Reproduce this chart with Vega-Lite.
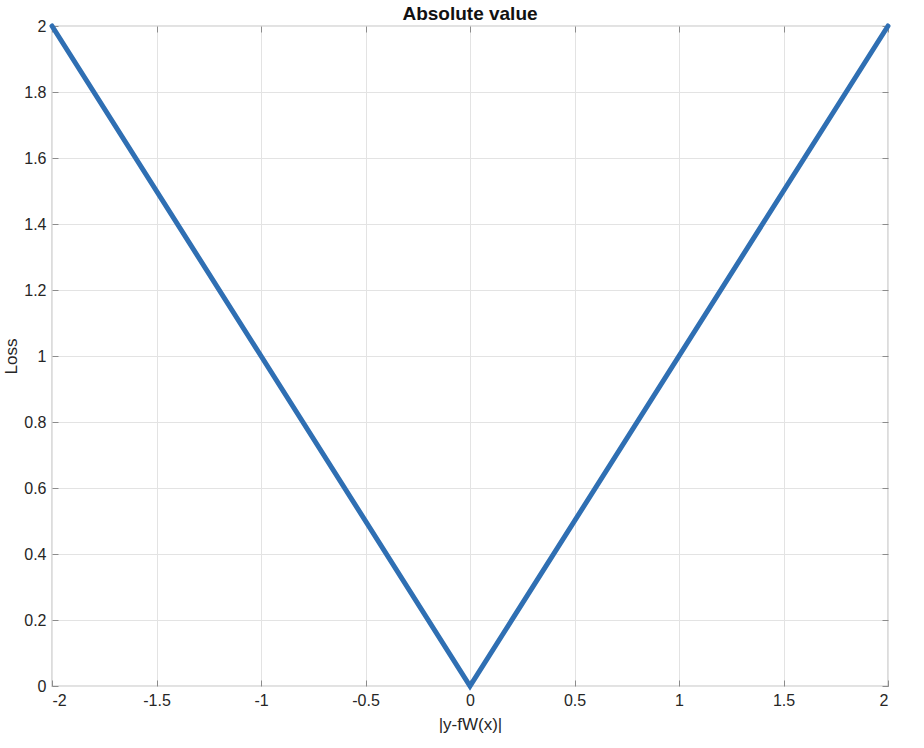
{
  "$schema": "https://vega.github.io/schema/vega-lite/v6.json",
  "width": 836,
  "height": 660,
  "autosize": {"type": "none"},
  "padding": {"left": 52, "top": 26, "right": 36, "bottom": 62},
  "background": "white",
  "config": {
    "font": "Liberation Sans",
    "view": {"stroke": "#8c8c8c", "strokeWidth": 1.2},
    "axis": {
      "domain": false,
      "grid": true,
      "gridColor": "#e3e3e3",
      "gridWidth": 1,
      "tickColor": "#8c8c8c",
      "tickSize": -6,
      "labelFont": "Liberation Sans",
      "labelFontSize": 16,
      "labelColor": "#262626",
      "titleFont": "Liberation Sans",
      "titleFontSize": 17,
      "titleFontWeight": "normal",
      "titleColor": "#262626"
    },
    "title": {"font": "Liberation Sans", "fontSize": 19, "fontWeight": "bold", "color": "#111111", "offset": -8}
  },
  "title": "Absolute value",
  "data": {"values": [
    {"e": -2, "loss": 2},
    {"e": 0, "loss": 0},
    {"e": 2, "loss": 2}
  ]},
  "layer": [
    {
      "mark": {"type": "line", "color": "#2f6fb3", "strokeWidth": 5, "strokeCap": "round", "strokeJoin": "miter"},
      "encoding": {
        "x": {"field": "e", "type": "quantitative", "scale": {"domain": [-2, 2], "nice": false, "zero": false},
          "axis": {"orient": "bottom", "values": [-2, -1.5, -1, -0.5, 0, 0.5, 1, 1.5, 2], "labelExpr": "datum.value + ''", "labelPadding": 12, "title": "|y-fW(x)|", "titlePadding": 8}},
        "y": {"field": "loss", "type": "quantitative", "scale": {"domain": [0, 2], "nice": false},
          "axis": {"orient": "left", "values": [0, 0.2, 0.4, 0.6, 0.8, 1, 1.2, 1.4, 1.6, 1.8, 2], "labelExpr": "datum.value + ''", "labelPadding": 12, "title": "Loss", "titlePadding": 3}}
      }
    },
    {
      "mark": {"type": "line", "opacity": 0},
      "encoding": {
        "x": {"field": "e", "type": "quantitative", "axis": {"orient": "top", "values": [-2, -1.5, -1, -0.5, 0, 0.5, 1, 1.5, 2], "labels": false, "grid": false, "title": null}},
        "y": {"field": "loss", "type": "quantitative", "axis": {"orient": "right", "values": [0, 0.2, 0.4, 0.6, 0.8, 1, 1.2, 1.4, 1.6, 1.8, 2], "labels": false, "grid": false, "title": null}}
      }
    }
  ],
  "resolve": {"axis": {"x": "independent", "y": "independent"}}
}
